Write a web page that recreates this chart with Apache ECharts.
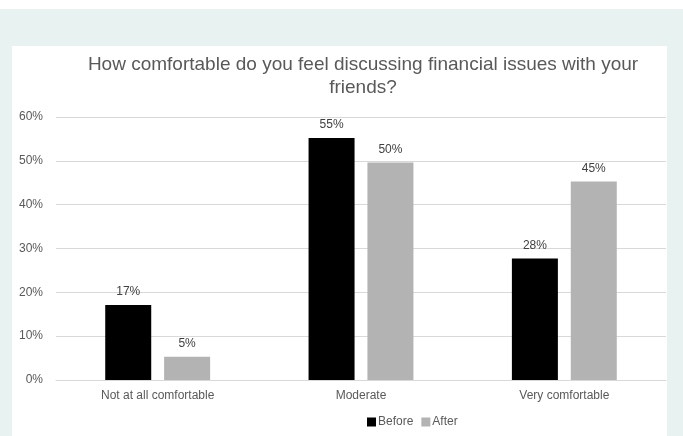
<!DOCTYPE html>
<html>
<head>
<meta charset="utf-8">
<script src="https://cdn.jsdelivr.net/npm/echarts@6/dist/echarts.min.js"></script>
<style>
  body { margin: 0; background: #fff; }
  #frame { position: absolute; left: 0; top: 9px; width: 683px; height: 427px; background: #e8f2f0; }
  #chart { position: absolute; left: 12px; top: 37px; width: 655px; height: 390px; background: #fff; }
</style>
</head>
<body>
<div id="frame"><div id="chart"></div></div>
<script>
// categories and values (percent)
var categories = ['Not at all comfortable', 'Moderate', 'Very comfortable'];
var beforeVals = [17.1, 55.2, 27.7];
var afterVals = [5.3, 49.6, 45.3];
var yTicks = [0, 10, 20, 30, 40, 50, 60];

var chart = echarts.init(document.getElementById('chart'));

var labelOpt = {
  show: true,
  position: 'top',
  distance: 7,
  color: '#404040',
  fontSize: 12,
  fontFamily: 'Liberation Sans, Arial',
  formatter: function (p) { return Math.round(p.value) + '%'; }
};

var option = {
  animation: false,
  title: {
    text: 'How comfortable do you feel discussing financial issues with your\nfriends?',
    left: 346,
    textAlign: 'center',
    top: 2,
    textStyle: {
      color: '#595959',
      fontSize: 19,
      fontWeight: 'normal',
      lineHeight: 23,
      fontFamily: 'Liberation Sans, Arial'
    }
  },
  legend: {
    bottom: 3,
    left: 350,
    textAlign: 'center',
    itemWidth: 9,
    itemHeight: 9,
    itemGap: 8,
    icon: 'rect',
    textStyle: { color: '#595959', fontSize: 12, fontFamily: 'Liberation Sans, Arial', padding: [0, 0, 0, -3] },
    data: ['Before', 'After']
  },
  grid: { left: 44, right: 1, top: 71, bottom: 56 },
  xAxis: {
    type: 'category',
    data: categories,
    axisTick: { show: false },
    axisLine: { lineStyle: { color: '#d9d9d9' } },
    axisLabel: { color: '#595959', fontSize: 12, margin: 10, fontFamily: 'Liberation Sans, Arial' }
  },
  yAxis: {
    type: 'value',
    min: yTicks[0],
    max: yTicks[yTicks.length - 1],
    interval: 10,
    axisLine: { show: false },
    axisTick: { show: false },
    splitLine: { lineStyle: { color: '#d9d9d9' } },
    axisLabel: {
      color: '#595959', fontSize: 12, margin: 13, fontFamily: 'Liberation Sans, Arial',
      formatter: '{value}%'
    }
  },
  series: [{
    name: 'Before',
    type: 'bar',
    data: beforeVals,
    barWidth: 46,
    barGap: '28%',
    itemStyle: { color: '#000000' },
    label: labelOpt
  }, {
    name: 'After',
    type: 'bar',
    data: afterVals,
    barWidth: 46,
    itemStyle: { color: '#b3b3b3' },
    label: labelOpt
  }]
};
chart.setOption(option);
</script>
</body>
</html>
